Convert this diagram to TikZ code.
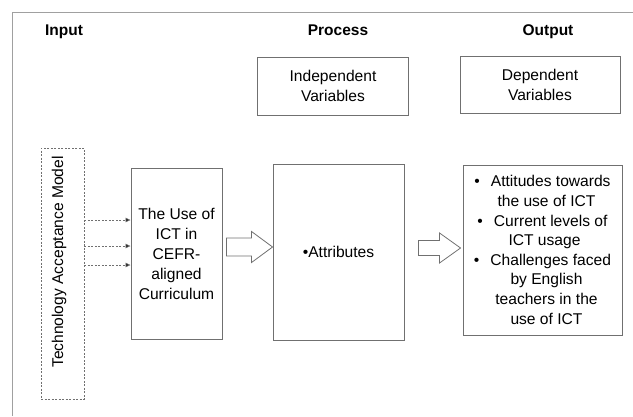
\documentclass[tikz,border=0pt]{standalone}
\usepackage{fontspec}
\setmainfont{Liberation Sans}
\usetikzlibrary{arrows.meta}

\definecolor{framegray}{HTML}{A0A0A0}
\definecolor{boxgray}{HTML}{707070}

\tikzset{
  heading/.style={font=\fontsize{15.5}{18}\selectfont\bfseries, inner sep=0pt, anchor=base},
  plainbox/.style={draw=boxgray, line width=0.9pt, inner sep=2pt, align=center,
    font=\fontsize{15.6}{20}\selectfont},
  dashbox/.style={draw=boxgray, line width=0.8pt, dash pattern=on 2pt off 1.5pt},
  feed/.style={draw=boxgray, line width=0.8pt, dash pattern=on 2pt off 1.5pt,
    -{Triangle[length=5pt,width=4.5pt,fill=black]}},
  blockarrow/.style={draw=boxgray, fill=white, line width=0.8pt, line join=miter}
}

\begin{document}
\begin{tikzpicture}[x=1pt,y=-1pt]
  \useasboundingbox (0,0) rectangle (633,416);

  % page frame
  \draw[framegray, line width=0.9pt] (12,416) -- (12,12) -- (633,12);

  % column headings
  \node[heading] (hin)  at (64,35)  {Input};
  \node[heading] (hpro) at (338,35) {Process};
  \node[heading] (hout) at (548,35) {Output};

  % variable boxes
  \node[plainbox, minimum width=151pt, minimum height=58pt] (indep) at (333,86)
    {Independent\\Variables};
  \node[plainbox, minimum width=160pt, minimum height=57pt] (dep) at (540,85)
    {Dependent\\Variables};

  % model box (dashed) with rotated label
  \node[dashbox, minimum width=43pt, minimum height=251pt] (tam) at (62.5,273.5) {};
  \node[rotate=90, font=\fontsize{15.6}{20}\selectfont, inner sep=0pt] (tamlabel)
    at (59,262) {Technology Acceptance Model};

  % input box
  \node[plainbox, minimum width=91pt, minimum height=171pt] (ict) at (176.5,253.5)
    {The Use of\\ICT in\\CEFR-\\aligned\\Curriculum};

  % process box
  \node[plainbox, minimum width=131pt, minimum height=176pt] (attr) at (338.5,252)
    {\textbullet Attributes};

  % output box
  \node[plainbox, minimum width=159pt, minimum height=170pt, inner sep=0pt] (outc) at (542.5,250)
    {\textbullet\hspace{11pt}Attitudes towards\\[-0.4pt]
     \hspace{8pt}the use of ICT\\[-0.4pt]
     \textbullet\hspace{11pt}Current levels of\\[-0.4pt]
     \hspace{4pt}ICT usage\\[-0.4pt]
     \textbullet\hspace{11pt}Challenges faced\\[-0.4pt]
     \hspace{8pt}by English\\[-0.4pt]
     \hspace{8pt}teachers in the\\[-0.4pt]
     \hspace{8pt}use of ICT};

  % dashed feeds from the model into the input box
  \coordinate (f1) at (tam.east |- 0,220);
  \coordinate (f2) at (tam.east |- 0,246);
  \coordinate (f3) at (tam.east |- 0,265);
  \draw[feed] (f1) -- (ict.west |- f1);
  \draw[feed] (f2) -- (ict.west |- f2);
  \draw[feed] (f3) -- (ict.west |- f3);

  % block arrows between stages (tip, head, shaft)
  \coordinate (t1) at (attr.west |- 0,247);
  \draw[blockarrow] (t1) -- ++(-21,-15.5) -- ++(0,6.5) -- ++(-25,0) -- ++(0,18)
    -- ++(25,0) -- ++(0,6.5) -- cycle;
  \coordinate (t2) at ([xshift=-2pt]outc.west |- 0,248);
  \draw[blockarrow] (t2) -- ++(-21,-15) -- ++(0,7.5) -- ++(-21,0) -- ++(0,15)
    -- ++(21,0) -- ++(0,7.5) -- cycle;
\end{tikzpicture}
\end{document}
